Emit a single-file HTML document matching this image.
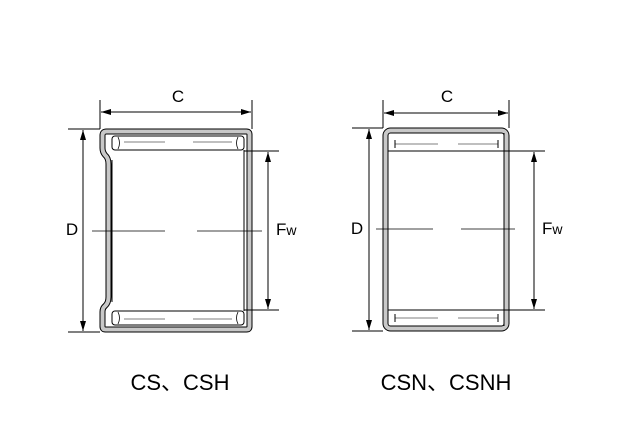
<!DOCTYPE html>
<html><head><style>body{margin:0;background:#fff}svg{display:block}</style></head><body>
<svg width="640" height="440" viewBox="0 0 640 440" xmlns="http://www.w3.org/2000/svg" font-family="Liberation Sans, sans-serif">
<defs><marker id="a" viewBox="0 0 10 6" refX="10" refY="3" markerWidth="10" markerHeight="6" orient="auto-start-reverse"><path d="M0,0L10,3L0,6z" fill="#000"/></marker></defs>
<g fill="none">
<!-- Left shell -->
<path id="ls" d="M106.5,131.5 H246.5 Q249.5,131.5 249.5,134.5 V326.5 Q249.5,329.5 246.5,329.5 H105.5 Q102.5,329.5 102.5,326.5 V312 Q102.5,308 105,306 Q108.5,303 108.5,297 V164 Q108.5,158 105,155 Q102.5,152 102.5,148 V135.5 Q102.5,131.5 106.5,131.5Z" stroke="#000" stroke-width="6"/>
<path d="M106.5,131.5 H246.5 Q249.5,131.5 249.5,134.5 V326.5 Q249.5,329.5 246.5,329.5 H105.5 Q102.5,329.5 102.5,326.5 V312 Q102.5,308 105,306 Q108.5,303 108.5,297 V164 Q108.5,158 105,155 Q102.5,152 102.5,148 V135.5 Q102.5,131.5 106.5,131.5Z" stroke="#c8c8c8" stroke-width="4"/>
<!-- Right shell -->
<rect x="385.5" y="130.5" width="121" height="198" rx="5" stroke="#000" stroke-width="6"/>
<rect x="385.5" y="130.5" width="121" height="198" rx="5" stroke="#c8c8c8" stroke-width="4"/>
</g>
<g stroke="#000" stroke-width="1" fill="none">
<!-- Left rollers -->
<rect x="112" y="136" width="132" height="14" rx="3" fill="#fff"/>
<rect x="112" y="311" width="132" height="14" rx="3" fill="#fff"/>
<path d="M118,137 Q121,143 118,149 M238,137 Q235,143 238,149 M118,312 Q121,318 118,324 M238,312 Q235,318 238,324" stroke-width="0.8"/>
<line x1="112" y1="160" x2="112" y2="302"/><line x1="244" y1="150" x2="244" y2="311"/>
<line x1="100" y1="100" x2="100" y2="129"/><line x1="252" y1="100" x2="252" y2="129"/>
<line x1="101" y1="112" x2="251" y2="112" marker-start="url(#a)" marker-end="url(#a)"/>
<line x1="68" y1="129" x2="100" y2="129"/><line x1="68" y1="332" x2="100" y2="332"/>
<line x1="83" y1="130" x2="83" y2="331" marker-start="url(#a)" marker-end="url(#a)"/>
<line x1="244" y1="151" x2="279" y2="151"/><line x1="244" y1="310" x2="279" y2="310"/>
<line x1="268" y1="152" x2="268" y2="309" marker-start="url(#a)" marker-end="url(#a)"/>
<line x1="92" y1="231" x2="165" y2="231" stroke-width="0.8"/><line x1="197" y1="231" x2="262" y2="231" stroke-width="0.8"/>
<line x1="124" y1="142" x2="165" y2="142" stroke-width="0.6"/><line x1="193" y1="142" x2="232" y2="142" stroke-width="0.6"/>
<line x1="124" y1="319" x2="165" y2="319" stroke-width="0.6"/><line x1="193" y1="319" x2="232" y2="319" stroke-width="0.6"/>
<!-- Right inner -->
<line x1="388" y1="151" x2="504" y2="151"/><line x1="388" y1="310" x2="504" y2="310"/>
<line x1="504" y1="133" x2="504" y2="326"/>
<line x1="395" y1="140" x2="395" y2="148"/><line x1="498" y1="140" x2="498" y2="148"/>
<line x1="395" y1="144" x2="438" y2="144" stroke-width="0.6"/><line x1="458" y1="144" x2="498" y2="144" stroke-width="0.6"/>
<line x1="395" y1="314" x2="395" y2="322"/><line x1="498" y1="314" x2="498" y2="322"/>
<line x1="395" y1="318" x2="438" y2="318" stroke-width="0.6"/><line x1="458" y1="318" x2="498" y2="318" stroke-width="0.6"/>
<line x1="383" y1="100" x2="383" y2="128"/><line x1="509" y1="100" x2="509" y2="128"/>
<line x1="384" y1="113" x2="508" y2="113" marker-start="url(#a)" marker-end="url(#a)"/>
<line x1="352" y1="128" x2="383" y2="128"/><line x1="352" y1="331" x2="383" y2="331"/>
<line x1="369" y1="129" x2="369" y2="330" marker-start="url(#a)" marker-end="url(#a)"/>
<line x1="504" y1="151" x2="545" y2="151"/><line x1="504" y1="310" x2="545" y2="310"/>
<line x1="534" y1="152" x2="534" y2="309" marker-start="url(#a)" marker-end="url(#a)"/>
<line x1="376" y1="229" x2="433" y2="229" stroke-width="0.8"/><line x1="461" y1="229" x2="515" y2="229" stroke-width="0.8"/>
</g>
<g font-size="17" fill="#000">
<text x="178" y="102" text-anchor="middle">C</text>
<text x="72" y="235" text-anchor="middle">D</text>
<text x="276" y="235">F<tspan font-size="14">w</tspan></text>
<text x="447" y="102" text-anchor="middle">C</text>
<text x="357" y="234" text-anchor="middle">D</text>
<text x="542" y="234">F<tspan font-size="14">w</tspan></text>
</g>
<g font-size="22" fill="#000" font-family="Liberation Sans, Noto Sans CJK JP, sans-serif">
<text x="180" y="390" text-anchor="middle">CS、CSH</text>
<text x="446" y="390" text-anchor="middle">CSN、CSNH</text>
</g>
</svg>
</body></html>
